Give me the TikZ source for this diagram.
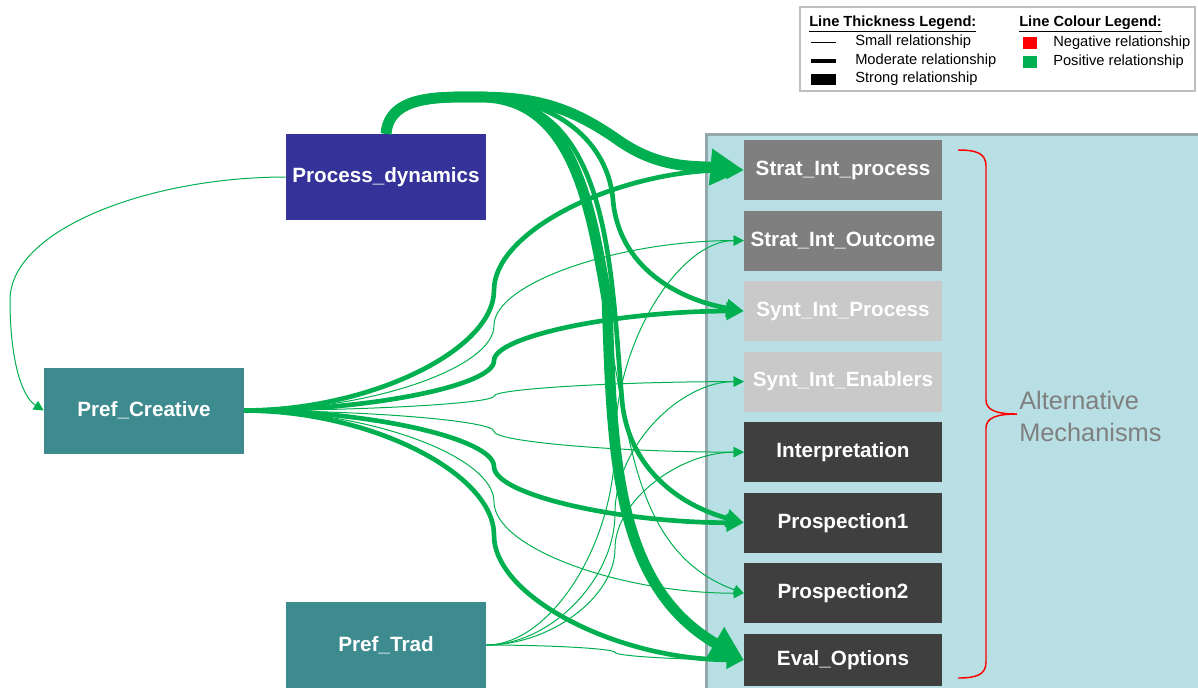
\documentclass[tikz,border=0pt]{standalone}
\usepackage{fontspec}
\setmainfont{Liberation Sans}
\usetikzlibrary{arrows.meta,positioning,calc}

\definecolor{relgreen}{HTML}{00B050}
\definecolor{procblue}{HTML}{353399}
\definecolor{prefteal}{HTML}{3D8A8F}
\definecolor{stratgrey}{HTML}{7F7F7F}
\definecolor{syntgrey}{HTML}{C9C9C9}
\definecolor{darkgrey}{HTML}{3F3F3F}
\definecolor{panelblue}{HTML}{B8DFE3}
\definecolor{panelframe}{HTML}{93A8AB}
\definecolor{legframe}{HTML}{BFBFBF}

\newcommand{\mechfont}{\fontsize{15.5}{18}\selectfont\bfseries}
\newcommand{\legfont}{\fontsize{11}{13}\selectfont}

\tikzset{
  box/.style={text=white, font=\mechfont, minimum width=150pt, minimum height=64.5pt, inner sep=0pt},
  mech/.style={box, minimum width=148.5pt, minimum height=45pt},
  legtext/.style={anchor=west, inner sep=0pt, font=\legfont},
  smallrel/.style={draw=relgreen, line width=0.75pt, -{Triangle[length=7.5pt,width=7.5pt]}},
  modrel/.style={draw=relgreen, line width=3.5pt, -{Triangle[length=13pt,width=13pt]}},
  strongrel/.style={draw=relgreen, line width=8pt, -{Triangle[length=25pt,width=26pt]}},
  % s-shaped connector, vertical at its middle
  sconn/.style={to path={let \p1=(\tikztostart), \p2=(\tikztotarget) in
    .. controls ({0.75*\x1+0.25*\x2},\y1) and ({0.5*\x1+0.5*\x2},{0.75*\y1+0.25*\y2})
    .. ({0.5*\x1+0.5*\x2},{0.5*\y1+0.5*\y2})
    .. controls ({0.5*\x1+0.5*\x2},{0.25*\y1+0.75*\y2}) and ({0.25*\x1+0.75*\x2},\y2)
    .. (\tikztotarget) \tikztonodes}}
}

\begin{document}
\begin{tikzpicture}[x=0.75pt, y=-0.75pt]
\useasboundingbox (0,0) rectangle (1198,687);

% panel holding the mechanisms
\draw[panelframe, fill=panelblue, line width=2.25pt] (706,134) rectangle (1215,700);

% legend
\draw[legframe, line width=1.5pt] (800,7) rectangle (1195,91);
\node[legtext, font=\legfont\bfseries] (thickhead) at (809,24) {\underline{Line Thickness Legend:}};
\node[legtext, font=\legfont\bfseries] (colhead) at (1019,24) {\underline{Line Colour Legend:}};
\draw[line width=0.75pt] (811,42) -- (836,42);
\draw[line width=3pt] (811,61) -- (836,61);
\fill (811,74) rectangle (836,85);
\node[legtext] (smalltxt) at (855,42) {Small relationship};
\node[legtext] (modtxt) at (855,61) {Moderate relationship};
\node[legtext] (strongtxt) at (855,79) {Strong relationship};
\fill[red] (1023,37) rectangle (1037,49);
\fill[relgreen] (1023,56) rectangle (1037,68);
\node[legtext] (negtxt) at (1053,43) {Negative relationship};
\node[legtext] (postxt) at (1053,62) {Positive relationship};

% drivers
\node[box, fill=procblue] (pd) at (386,177) {Process\_dynamics};
\node[box, fill=prefteal] (pc) at (144,410.5) {Pref\_Creative};
\node[box, fill=prefteal] (pt) at (386,645) {Pref\_Trad};

% mechanisms
\node[mech, fill=stratgrey] (m1) at (843,170) {Strat\_Int\_process};
\node[mech, fill=stratgrey, below=7.5pt of m1] (m2) {Strat\_Int\_Outcome};
\node[mech, fill=syntgrey, below=7.5pt of m2] (m3) {Synt\_Int\_Process};
\node[mech, fill=syntgrey, below=7.5pt of m3] (m4) {Synt\_Int\_Enablers};
\node[mech, fill=darkgrey, below=7.5pt of m4] (m5) {Interpretation};
\node[mech, fill=darkgrey, below=7.5pt of m5] (m6) {Prospection1};
\node[mech, fill=darkgrey, below=7.5pt of m6] (m7) {Prospection2};
\node[mech, fill=darkgrey, below=7.5pt of m7, minimum height=39pt] (m8) {Eval\_Options};

% brace and its label
\draw[red, line width=1.1pt] (958,150) .. controls (976,150) and (986,153) .. (986,166)
  -- (986,400) .. controls (986,410) and (996,414) .. (1017,414)
  .. controls (996,414) and (986,418) .. (986,428)
  -- (986,662) .. controls (986,675) and (976,678) .. (958,678);
\node[anchor=west, align=left, text=stratgrey, font=\fontsize{19}{24}\selectfont, inner sep=0pt] (altmech) at (1019,416) {Alternative\\Mechanisms};

% waypoints for the Process_dynamics bundle
\coordinate (pdtop) at (480,97);
\coordinate (bend1) at (618,140);
\coordinate (bend3) at (613,200);
\coordinate (bend6) at (622,400);
\coordinate (bend7) at (614,360);
\coordinate (bend8) at (607,300);
\coordinate (loopw) at (10,300);

% Process_dynamics back into Pref_Creative
\draw[smallrel] (pd.west) .. controls +(-138,0) and +(0,-70) .. (loopw) .. controls +(0,60) and +(-22,-14) .. (pc.west);

% Pref_Trad
\draw[smallrel] (pt.east) to[sconn] (m2.west);
\draw[smallrel] (pt.east) to[sconn] (m4.west);
\draw[smallrel] (pt.east) to[sconn] (m5.west);
\draw[smallrel] (pt.east) to[sconn] (m8.west);

% Pref_Creative
\draw[smallrel] (pc.east) to[sconn] (m2.west);
\draw[smallrel] (pc.east) to[sconn] (m4.west);
\draw[smallrel] (pc.east) to[sconn] (m5.west);
\draw[smallrel] (pc.east) to[sconn] (m7.west);
\draw[modrel] (pc.east) to[sconn] (m1.west);
\draw[modrel] (pc.east) to[sconn] (m3.west);
\draw[modrel] (pc.east) to[sconn] (m6.west);
\draw[modrel] (pc.east) to[sconn] (m8.west);

% Process_dynamics
\draw[smallrel] (pd.north) to[out=85,in=180] (pdtop) to[out=0,in=98] (bend7) to[out=-80,in=160] (m7.west);
\draw[modrel] (pd.north) to[out=85,in=180] (pdtop) to[out=0,in=95] (bend3) to[out=-85,in=170] (m3.west);
\draw[modrel] (pd.north) to[out=85,in=180] (pdtop) to[out=0,in=95] (bend6) to[out=-85,in=165] (m6.west);
\draw[strongrel] (pd.north) to[out=85,in=180] (pdtop) to[out=0,in=100] (bend8) to[out=-88,in=150] (m8.west);
\draw[strongrel] (pd.north) to[out=85,in=180] (pdtop) to[out=0,in=145] (bend1) to[out=-35,in=175] (m1.west);
\end{tikzpicture}
\end{document}
